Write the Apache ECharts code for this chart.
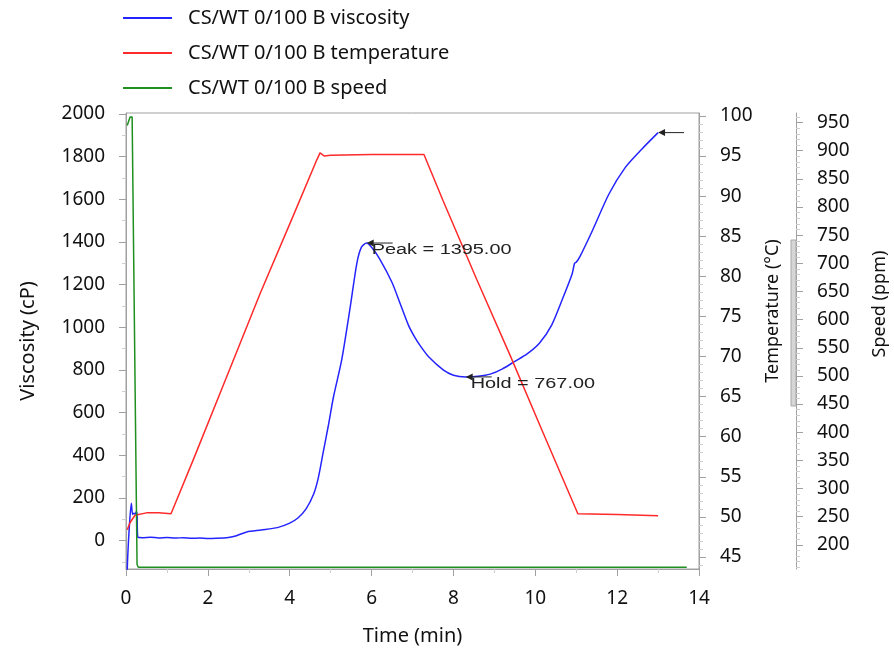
<!DOCTYPE html>
<html>
<head>
<meta charset="utf-8">
<script src="https://cdn.jsdelivr.net/npm/echarts@6/dist/echarts.min.js"></script>
<style>
  html, body { margin: 0; padding: 0; background: #fff; }
  #chart { width: 894px; height: 653px; }
</style>
</head>
<body>
<div id="chart"></div>
<script>
// viscosity (cP) vs time (min)
var viscTime = [0.0, 0.03, 0.08, 0.13, 0.16, 0.19, 0.22, 0.25, 0.27, 0.29, 0.4, 0.6, 0.8, 1.0, 1.2, 1.4, 1.6, 1.8, 2.0, 2.2, 2.5, 2.7, 2.95, 3.3, 3.7, 4.0, 4.2, 4.4, 4.58, 4.7, 4.82, 4.95, 5.07, 5.27, 5.48, 5.64, 5.75, 5.88, 6.0, 6.2, 6.5, 6.7, 6.9, 7.05, 7.2, 7.4, 7.75, 8.0, 8.3, 8.6, 8.9, 9.2, 9.5, 9.8, 10.1, 10.4, 10.7, 10.9, 10.96, 11.0, 11.1, 11.4, 11.8, 12.2, 12.6, 13.0];
var viscValue = [-500, -140, 60, 175, 122, 128, 124, 135, 125, 15, 13, 15, 12, 14, 11, 13, 10, 11, 9, 10, 14, 22, 40, 49, 60, 81, 105, 148, 215, 295, 415, 545, 674, 847, 1097, 1300, 1375, 1395, 1375, 1320, 1210, 1110, 1010, 955, 910, 860, 800, 775, 767, 770, 780, 805, 840, 875, 925, 1010, 1150, 1250, 1300, 1305, 1335, 1455, 1625, 1750, 1835, 1913];

// temperature (°C) vs time (min)
var tempTime = [0.03, 0.1, 0.22, 0.5, 0.8, 1.1, 1.65, 2.47, 3.28, 4.09, 4.66, 4.74, 4.85, 5.0, 6.0, 7.28, 7.75, 8.57, 9.38, 10.19, 11.04, 12.0, 13.0];
var tempValue = [48.4, 49.3, 50.2, 50.5, 50.5, 50.4, 57.2, 67.6, 77.9, 87.6, 94.5, 95.4, 95.0, 95.1, 95.2, 95.2, 89.4, 79.6, 70.2, 60.5, 50.4, 50.3, 50.15];

// speed vs time (min)
var speedTime = [0.03, 0.1, 0.15, 0.27, 0.3, 13.7];
var speedValue = [945, 960, 960, 165, 160, 160];

// axis tick labels
var timeTicks = [0, 2, 4, 6, 8, 10, 12, 14];
var viscTicks = [0, 200, 400, 600, 800, 1000, 1200, 1400, 1600, 1800, 2000];
var tempTicks = [45, 50, 55, 60, 65, 70, 75, 80, 85, 90, 95, 100];
var speedTicks = [200, 250, 300, 350, 400, 450, 500, 550, 600, 650, 700, 750, 800, 850, 900, 950];

// markers: [time, viscosity, label]
var marks = [[5.88, 1395, 'Peak = 1395.00'], [8.3, 767, 'Hold = 767.00'], [13.0, 1913, '']];

function pairs(xs, ys) {
  return xs.map(function (x, i) { return [x, ys[i]]; });
}
function minorTicks(lo, hi, step, major) {
  var out = [];
  for (var v = lo; v <= hi + 1e-9; v += step) {
    var r = Math.round(v * 100) / 100;
    if (major.indexOf(r) < 0) out.push(r);
  }
  return out;
}
function plain(v) { return String(v); }

var FONT = 'Noto Sans';
var AXIS_GRAY = '#a0a0a0';

var viscRange = [-134, 2005];
var tempRange = [43.5, 100.37];
var speedRange = [157, 967];

function mainY(range, ticks, pos, offset) {
  return {
    type: 'value', position: pos, offset: offset,
    min: range[0], max: range[1],
    axisLine: { show: true, lineStyle: { color: AXIS_GRAY } },
    axisTick: { show: true, length: 7, customValues: ticks, lineStyle: { color: AXIS_GRAY } },
    axisLabel: { customValues: ticks, formatter: plain, margin: 21, fontSize: 19, fontFamily: FONT, color: '#111' },
    splitLine: { show: false }
  };
}
function minorY(range, ticks, pos, offset) {
  return {
    type: 'value', position: pos, offset: offset,
    min: range[0], max: range[1],
    axisLine: { show: false },
    axisTick: { show: true, length: 4, customValues: ticks, lineStyle: { color: '#cfcfcf' } },
    axisLabel: { show: false },
    splitLine: { show: false }
  };
}

var chart = echarts.init(document.getElementById('chart'));

var yVisc = mainY(viscRange, viscTicks, 'left', 0);
yVisc.name = 'Viscosity (cP)';
yVisc.nameLocation = 'middle';
yVisc.nameGap = 88;
yVisc.nameTextStyle = { fontSize: 20, fontFamily: FONT, color: '#111' };

var option = {
  animation: false,
  backgroundColor: '#fff',
  grid: {
    left: 126, right: 195, top: 113, bottom: 84,
    show: true, borderColor: AXIS_GRAY, borderWidth: 1
  },
  legend: {
    orient: 'vertical', left: 118, top: 1,
    icon: 'rect', itemWidth: 49, itemHeight: 2, itemGap: 11,
    textStyle: { fontSize: 20, fontFamily: FONT, color: '#111', padding: [0, 0, 0, 11], lineHeight: 24 },
    data: ['CS/WT 0/100 B viscosity', 'CS/WT 0/100 B temperature', 'CS/WT 0/100 B speed']
  },
  xAxis: [{
    type: 'value', min: 0, max: 14, interval: 2,
    name: 'Time (min)', nameLocation: 'middle', nameGap: 57,
    nameTextStyle: { fontSize: 20, fontFamily: FONT, color: '#111' },
    axisLine: { show: true, onZero: false, lineStyle: { color: AXIS_GRAY } },
    axisTick: { show: true, length: 7, lineStyle: { color: AXIS_GRAY } },
    minorTick: { show: true, splitNumber: 2, length: 4, lineStyle: { color: '#cfcfcf' } },
    axisLabel: { formatter: plain, margin: 20, fontSize: 19, fontFamily: FONT, color: '#111' },
    splitLine: { show: false }
  }],
  yAxis: [
    yVisc,
    mainY(tempRange, tempTicks, 'right', 0),
    mainY(speedRange, speedTicks, 'right', 97),
    minorY(viscRange, minorTicks(-100, 1900, 100, viscTicks), 'left', 0),
    minorY(tempRange, minorTicks(44, 100, 1, tempTicks), 'right', 0),
    minorY(speedRange, minorTicks(160, 960, 10, speedTicks), 'right', 97)
  ],
  series: [
    {
      name: 'CS/WT 0/100 B viscosity', type: 'line', yAxisIndex: 0,
      symbol: 'none', clip: true, smooth: 0.25,
      lineStyle: { color: '#2424ff', width: 1.5 }, itemStyle: { color: '#2424ff' },
      data: pairs(viscTime, viscValue)
    },
    {
      name: 'CS/WT 0/100 B temperature', type: 'line', yAxisIndex: 1,
      symbol: 'none', clip: true,
      lineStyle: { color: '#ff2a2a', width: 1.5 }, itemStyle: { color: '#ff2a2a' },
      data: pairs(tempTime, tempValue)
    },
    {
      name: 'CS/WT 0/100 B speed', type: 'line', yAxisIndex: 2,
      symbol: 'none', clip: true,
      lineStyle: { color: '#1f8f1f', width: 1.5 }, itemStyle: { color: '#1f8f1f' },
      data: pairs(speedTime, speedValue)
    }
  ]
};
chart.setOption(option);

// annotations placed through the viscosity axis
var gfx = [];
marks.forEach(function (m) {
  var p = chart.convertToPixel({ xAxisIndex: 0, yAxisIndex: 0 }, [m[0], m[1]]);
  gfx.push({
    type: 'line', shape: { x1: p[0] + 5, y1: p[1], x2: p[0] + 26, y2: p[1] },
    style: { stroke: '#222', lineWidth: 1 }, z: 10
  });
  gfx.push({
    type: 'polygon', shape: { points: [[p[0], p[1]], [p[0] + 7, p[1] - 3.5], [p[0] + 7, p[1] + 3.5]] },
    style: { fill: '#222' }, z: 10
  });
  if (m[2]) {
    gfx.push({
      type: 'text', x: p[0] + 5, y: p[1] + 7.5, scaleX: 1.42,
      style: { text: m[2], font: '14px "Liberation Sans"', fill: '#222', verticalAlign: 'middle', align: 'left' },
      z: 10
    });
  }
});
// right-hand axis titles
gfx.push({
  type: 'text', x: 773, y: 311, rotation: Math.PI / 2,
  style: { text: 'Temperature (°C)', font: '18px "Noto Sans"', fill: '#111', align: 'center', verticalAlign: 'middle' }
});
gfx.push({
  type: 'text', x: 880, y: 304, rotation: Math.PI / 2,
  style: { text: 'Speed (ppm)', font: '18px "Noto Sans"', fill: '#111', align: 'center', verticalAlign: 'middle' }
});
// grey band on the speed axis
gfx.push({
  type: 'rect', shape: { x: 791, y: 240, width: 5, height: 166 },
  style: { fill: '#d6d6d6', stroke: '#a8a8a8', lineWidth: 1 }
});
chart.setOption({ graphic: gfx });
</script>
</body>
</html>
